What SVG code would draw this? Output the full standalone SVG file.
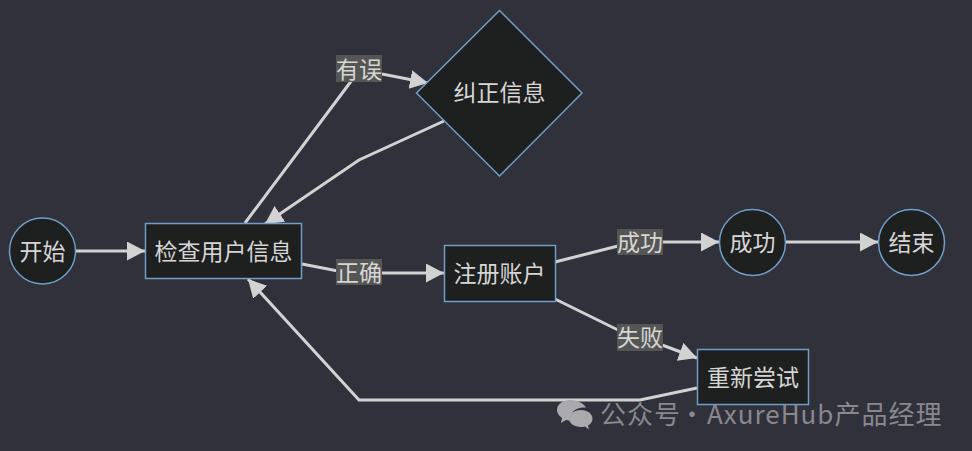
<svg xmlns="http://www.w3.org/2000/svg" width="972" height="451" viewBox="0 0 972 451">
<style>
text{font-family:"Noto Sans CJK SC","Noto Sans",sans-serif;font-size:23px;fill:#d6d6d6;text-anchor:middle;dominant-baseline:central}
.n{fill:#1e1f1f;stroke:#6f9fc8;stroke-width:1.5}
.e{fill:none;stroke:#d2d2d2;stroke-width:3}
.lb{fill:#555553}
.wm{font-size:26px;fill:#88888e;text-anchor:start;letter-spacing:1px}
</style>
<defs><marker id="a" markerUnits="userSpaceOnUse" markerWidth="20" markerHeight="20" refX="18" refY="9.500" orient="auto"><path d="M0 0L18 9.500L0 19z" fill="#d2d2d2"/></marker></defs>
<rect width="972" height="451" fill="#30313a"/>
<g id="connectors">
<path class="e" marker-end="url(#a)" d="M76 251H145"/>
<path class="e" d="M245 223L352 80"/>
<path class="e" marker-end="url(#a)" d="M382 74L428 83"/>
<path class="e" marker-end="url(#a)" d="M444 121L359 160L265 224"/>
<path class="e" d="M302 264L338 271"/>
<path class="e" marker-end="url(#a)" d="M382 273H444"/>
<path class="e" d="M555 262L618 246"/>
<path class="e" marker-end="url(#a)" d="M662 242H719"/>
<path class="e" marker-end="url(#a)" d="M786 242H878"/>
<path class="e" d="M555 299L618 330"/>
<path class="e" marker-end="url(#a)" d="M662 345L697 358"/>
<path class="e" marker-end="url(#a)" d="M697 388L640 400H359L248 279"/>
</g>
<g id="n-start"><circle class="n" cx="42.500" cy="251" r="33"/><text x="42.500" y="250">开始</text></g>
<g id="n-check"><rect class="n" x="145.500" y="223.500" width="156" height="55"/><text x="223.500" y="250">检查用户信息</text></g>
<g id="n-fix"><path class="n" d="M499.500 10.500L582 93L499.500 176L416.500 93z"/><text x="499.500" y="91">纠正信息</text></g>
<g id="n-reg"><rect class="n" x="444.500" y="245.500" width="111" height="56"/><text x="499.500" y="272">注册账户</text></g>
<g id="n-ok"><circle class="n" cx="752.500" cy="242.500" r="33"/><text x="752.500" y="241">成功</text></g>
<g id="n-end"><circle class="n" cx="911.500" cy="242.500" r="33"/><text x="911.500" y="241">结束</text></g>
<g id="n-retry"><rect class="n" x="697.500" y="349.500" width="111" height="55"/><text x="753" y="376">重新尝试</text></g>
<g id="labels">
<rect class="lb" x="336" y="55" width="46" height="27"/><text x="359" y="68">有误</text>
<rect class="lb" x="336" y="259" width="46" height="26"/><text x="359" y="271">正确</text>
<rect class="lb" x="617" y="229" width="46" height="26"/><text x="640" y="241">成功</text>
<rect class="lb" x="617" y="324" width="46" height="27"/><text x="640" y="336">失败</text>
</g>
<g id="watermark">
<path d="M570 400c-7 0-13 4-13 10 0 3 2 6 5 8l-1 5 5-3c2 .5 4 .5 5 .5-2-8 5-14 15-13-2-4-9-7.500-16-7.500z" fill="#a9a9ae"/>
<path d="M581 410c-7 0-12 4-12 8.500s5 8.500 12 8.500c1.500 0 3 0 4-.5l4 3-1-4c3-1.500 4.500-4 4.500-7 0-4.500-5-8.500-11.500-8.500z" fill="#a9a9ae"/>
<text class="wm" x="600" y="412">公众号</text>
<text class="wm" x="679" y="412">·</text>
<text class="wm" x="707" y="412">AxureHub产品经理</text>
</g>
</svg>
